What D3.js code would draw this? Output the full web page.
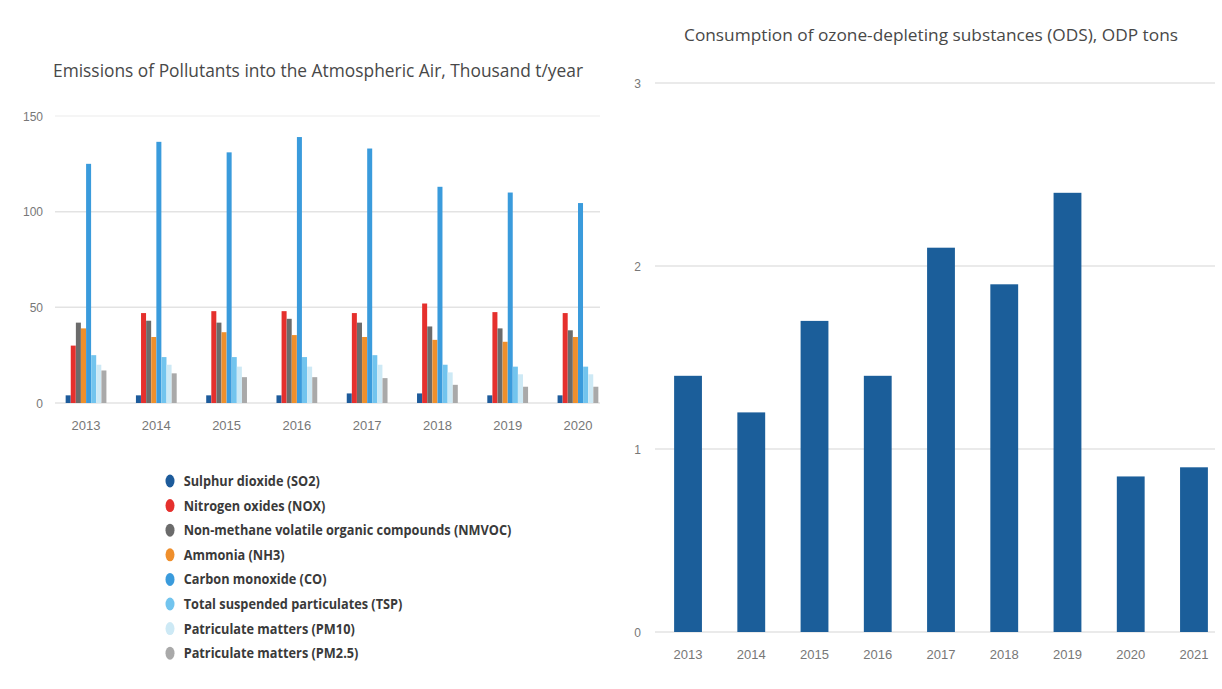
<!DOCTYPE html>
<html>
<head>
<meta charset="utf-8">
<script src="https://cdn.jsdelivr.net/npm/d3@7"></script>
<style>
  body { margin: 0; background: #fff; }
  svg { display: block; font-family: "Open Sans", sans-serif; }
  .tick text { fill: #777; }
</style>
</head>
<body>
<svg id="chart" width="1222" height="689"></svg>
<script>
// left chart data, thousand t/year
const years = ["2013", "2014", "2015", "2016", "2017", "2018", "2019", "2020"];
const pollutants = [
  "Sulphur dioxide (SO2)",
  "Nitrogen oxides (NOX)",
  "Non-methane volatile organic compounds (NMVOC)",
  "Ammonia (NH3)",
  "Carbon monoxide (CO)",
  "Total suspended particulates (TSP)",
  "Patriculate matters (PM10)",
  "Patriculate matters (PM2.5)"
];
const so2   = [4, 4, 4, 4, 5, 5, 4, 4];
const nox   = [30, 47, 48, 48, 47, 52, 47.5, 47];
const nmvoc = [42, 43, 42, 44, 42, 40, 39, 38];
const nh3   = [39, 34.5, 37, 35.5, 34.5, 33, 32, 34.5];
const co    = [125, 136.5, 131, 139, 133, 113, 110, 104.5];
const tsp   = [25, 24, 24, 24, 25, 20, 19, 19];
const pm10  = [20, 20, 19, 19, 20, 16, 15, 15];
const pm25  = [17, 15.5, 13.5, 13.5, 13, 9.5, 8.5, 8.5];
const leftTicks = [0, 50, 100, 150];

// right chart data, ODP tons
const odsYears = ["2013", "2014", "2015", "2016", "2017", "2018", "2019", "2020", "2021"];
const odsValues = [1.4, 1.2, 1.7, 1.4, 2.1, 1.9, 2.4, 0.85, 0.9];
const rightTicks = [0, 1, 2, 3];

const series = [so2, nox, nmvoc, nh3, co, tsp, pm10, pm25];
const colors = ["#1d5b9b", "#e5302d", "#6b6b6b", "#ef8f2c", "#3a9bdc", "#72c4ee", "#cde9f5", "#a9a9a9"];

let svg = d3.select("#chart");

// ---------- left chart ----------
let x0 = d3.scaleBand().domain(years).range([50.9, 613.1]).paddingInner(0.42).paddingOuter(0.21);
let x1 = d3.scaleBand().domain(d3.range(pollutants.length)).range([0, x0.bandwidth()]).paddingInner(0.02);
let yL = d3.scaleLinear().domain([0, 150]).range([403, 116]);
let color = d3.scaleOrdinal().domain(d3.range(pollutants.length)).range(colors);

let left = svg.append("g");

left.append("g").selectAll("line").data(leftTicks).join("line")
  .attr("x1", 55).attr("x2", 600)
  .attr("y1", d => yL(d)).attr("y2", d => yL(d))
  .attr("stroke", d => d == 150 ? "#f2f2f2" : "#e3e3e3")
  .attr("stroke-width", 1.5);

let yAxisL = left.append("g").attr("transform", "translate(43,0)")
  .call(d3.axisLeft(yL).tickValues(leftTicks).tickSize(0).tickPadding(0));
yAxisL.select(".domain").remove();
yAxisL.selectAll("text").attr("font-size", 12).attr("dy", "0.35em");

let xAxisL = left.append("g").attr("transform", "translate(0,403)")
  .call(d3.axisBottom(x0).tickSize(0).tickPadding(22));
xAxisL.select(".domain").remove();
xAxisL.selectAll("text").attr("font-size", 13).attr("dy", "0.35em");

let groups = left.append("g").selectAll("g").data(years).join("g")
  .attr("transform", d => "translate(" + x0(d) + ",0)");

groups.selectAll("rect")
  .data((d, i) => series.map((s, k) => ({k: k, v: s[i]})))
  .join("rect")
  .attr("x", d => x1(d.k))
  .attr("width", x1.bandwidth())
  .attr("y", d => yL(d.v))
  .attr("height", d => yL(0) - yL(d.v))
  .attr("fill", d => color(d.k));

left.append("text")
  .attr("x", 318).attr("y", 77)
  .attr("text-anchor", "middle")
  .attr("font-size", 17.5)
  .attr("fill", "#484848")
  .attr("textLength", 530)
  .attr("lengthAdjust", "spacingAndGlyphs")
  .text("Emissions of Pollutants into the Atmospheric Air, Thousand t/year");

// legend
let legend = left.append("g").attr("transform", "translate(170,481)");
let item = legend.selectAll("g").data(pollutants).join("g")
  .attr("transform", (d, i) => "translate(0," + i * 24.6 + ")");
item.append("ellipse")
  .attr("rx", 4.5).attr("ry", 6.5)
  .attr("fill", (d, i) => color(i));
item.append("text")
  .attr("x", 15).attr("dy", "0.35em")
  .attr("font-size", 14)
  .attr("font-weight", "bold")
  .attr("fill", "#3a3a3a")
  .attr("transform", "scale(0.91,1)")
  .text(d => d);

// ---------- right chart ----------
let xR = d3.scaleBand().domain(odsYears).range([656.4, 1225.6]).paddingInner(0.56).paddingOuter(0.28);
let yR = d3.scaleLinear().domain([0, 3]).range([632, 83]);

let right = svg.append("g");

right.append("g").selectAll("line").data(rightTicks).join("line")
  .attr("x1", 655).attr("x2", 1215)
  .attr("y1", d => yR(d)).attr("y2", d => yR(d))
  .attr("stroke", "#e3e3e3")
  .attr("stroke-width", 1.5);

let yAxisR = right.append("g").attr("transform", "translate(641,0)")
  .call(d3.axisLeft(yR).tickValues(rightTicks).tickFormat(d3.format("d")).tickSize(0).tickPadding(0));
yAxisR.select(".domain").remove();
yAxisR.selectAll("text").attr("font-size", 12).attr("dy", "0.35em");

let xAxisR = right.append("g").attr("transform", "translate(0,632)")
  .call(d3.axisBottom(xR).tickSize(0).tickPadding(22));
xAxisR.select(".domain").remove();
xAxisR.selectAll("text").attr("font-size", 13).attr("dy", "0.35em");

right.append("g").selectAll("rect").data(odsValues).join("rect")
  .attr("x", (d, i) => xR(odsYears[i]))
  .attr("width", xR.bandwidth())
  .attr("y", d => yR(d))
  .attr("height", d => yR(0) - yR(d))
  .attr("fill", "#1b5e9a");

right.append("text")
  .attr("x", 931).attr("y", 41)
  .attr("text-anchor", "middle")
  .attr("font-size", 17)
  .attr("fill", "#484848")
  .attr("textLength", 494)
  .attr("lengthAdjust", "spacingAndGlyphs")
  .text("Consumption of ozone-depleting substances (ODS), ODP tons");
</script>
</body>
</html>
